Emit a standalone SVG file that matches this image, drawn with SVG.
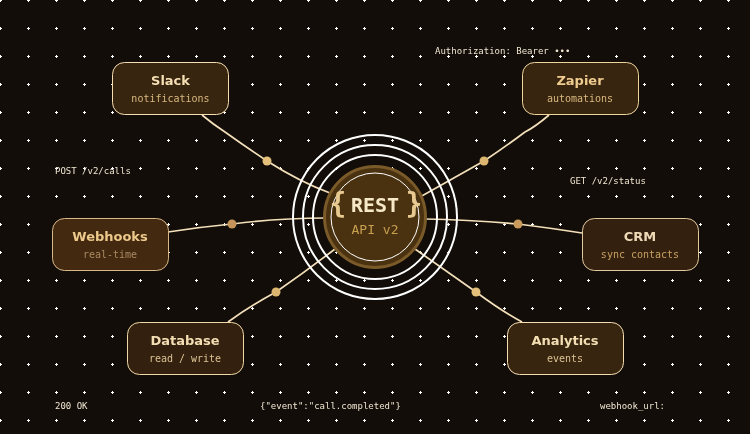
<svg xmlns="http://www.w3.org/2000/svg" width="750" height="434" viewBox="0 0 750 434">
<style>
.title{font-family:"DejaVu Sans",sans-serif;font-weight:700;font-size:13px;text-anchor:middle}
.sub{font-family:"DejaVu Sans Mono",monospace;font-size:10px;text-anchor:middle;letter-spacing:0}
.lab{font-family:"DejaVu Sans Mono",monospace;font-size:9px;fill:#f0e6d2}
.box{stroke-width:1}
.ring{fill:none;stroke:#fff;stroke-width:2}
.wire{fill:none;stroke:#f3dfba;stroke-width:1.7}
</style>
<defs>
<pattern id="dots" width="28" height="28" patternUnits="userSpaceOnUse" patternTransform="translate(-1 -1)"><path d="M0 1h3v1H0zM1 0h1v3H1z" fill="#fff" shape-rendering="crispEdges"/></pattern>
<filter id="rough" x="0" y="0" width="100%" height="100%" filterUnits="userSpaceOnUse" primitiveUnits="userSpaceOnUse" color-interpolation-filters="sRGB"><feTurbulence type="fractalNoise" baseFrequency="0.04" numOctaves="2" seed="3" result="n"/><feDisplacementMap in="SourceGraphic" in2="n" scale="1.2" xChannelSelector="R" yChannelSelector="G"/></filter>
</defs>
<rect width="750" height="434" fill="#120d08"/>
<rect width="750" height="434" fill="url(#dots)"/>
<g filter="url(#rough)">
<g id="connectors">
<path class="wire" d="M202 115 Q214 125 225 132 Q246 147 267 161 Q300 182 330 193"/>
<path class="wire" d="M549 115 Q535 127 525 132 Q505 147 484 161 Q450 180 420 197"/>
<path class="wire" d="M168 232 Q200 227 232 224 Q280 218 325 218"/>
<path class="wire" d="M582 233 Q550 228 518 224 Q470 220 425 219"/>
<path class="wire" d="M228 322 Q250 306 276 292 Q305 272 335 249"/>
<path class="wire" d="M522 322 Q500 310 476 292 Q445 270 415 249"/>
<circle cx="267" cy="161" r="4.500" fill="#e5c07b"/>
<circle cx="484" cy="161" r="4.500" fill="#dcb571"/>
<circle cx="232" cy="224" r="4.500" fill="#c4945a"/>
<circle cx="518" cy="224" r="4.500" fill="#c99a5b"/>
<circle cx="276" cy="292" r="4.500" fill="#dcb571"/>
<circle cx="476" cy="292" r="4.500" fill="#e5c07b"/>
</g>
<g id="hub">
<circle class="ring" cx="375" cy="217" r="82"/>
<circle class="ring" cx="375" cy="217" r="72"/>
<circle class="ring" cx="375" cy="217" r="62"/>
<circle cx="375" cy="217" r="50.500" fill="#4a3210" stroke="#7a5a28" stroke-width="3"/>
<circle cx="375" cy="217" r="44" fill="none" stroke="#fff" stroke-width="1"/>
<text x="338" y="213" font-family="'DejaVu Sans Mono',monospace" font-weight="700" font-size="28" fill="#e8c98f" text-anchor="middle">{</text>
<text x="414" y="213" font-family="'DejaVu Sans Mono',monospace" font-weight="700" font-size="28" fill="#e8c98f" text-anchor="middle">}</text>
<text x="375" y="212" font-family="'DejaVu Sans Mono',monospace" font-weight="700" font-size="20" fill="#f7e8c8" text-anchor="middle">REST</text>
<text x="375" y="234" font-family="'DejaVu Sans Mono',monospace" font-size="13" fill="#c9a050" text-anchor="middle">API v2</text>
</g>
<g id="slack"><rect class="box" x="112.500" y="62.500" width="116" height="52" rx="12" fill="#38250f" stroke="#f5deb3"/><text class="title" x="170.500" y="85" fill="#f5deb3">Slack</text><text class="sub" x="170.500" y="102" fill="#d9b981">notifications</text></g>
<g id="zapier"><rect class="box" x="522.500" y="62.500" width="116" height="52" rx="12" fill="#38250f" stroke="#f0d59e"/><text class="title" x="580" y="85" fill="#eecb8e">Zapier</text><text class="sub" x="580" y="102" fill="#d9b981">automations</text></g>
<g id="webhooks"><rect class="box" x="52.500" y="218.500" width="116" height="52" rx="12" fill="#42290f" stroke="#d9b98a"/><text class="title" x="110" y="241" fill="#edc98c">Webhooks</text><text class="sub" x="110" y="258" fill="#a98a62">real-time</text></g>
<g id="crm"><rect class="box" x="582.500" y="218.500" width="116" height="52" rx="12" fill="#33200e" stroke="#e3c9a0"/><text class="title" x="640" y="241" fill="#eed9b6">CRM</text><text class="sub" x="640" y="258" fill="#c9a063">sync contacts</text></g>
<g id="database"><rect class="box" x="127.500" y="322.500" width="116" height="52" rx="12" fill="#33200e" stroke="#f0d9a8"/><text class="title" x="185" y="345" fill="#f3deb3">Database</text><text class="sub" x="185" y="362" fill="#dcc294">read / write</text></g>
<g id="analytics"><rect class="box" x="507.500" y="322.500" width="116" height="52" rx="12" fill="#38250f" stroke="#f5deb3"/><text class="title" x="565" y="345" fill="#f3deb3">Analytics</text><text class="sub" x="565" y="362" fill="#dcc294">events</text></g>
<g id="labels">
<text class="lab" x="55" y="174">POST /v2/calls</text>
<text class="lab" x="435" y="54">Authorization: Bearer •••</text>
<text class="lab" x="570" y="184">GET /v2/status</text>
<text class="lab" x="55" y="409">200 OK</text>
<text class="lab" x="260" y="409">{"event":"call.completed"}</text>
<text class="lab" x="600" y="409">webhook_url:</text>
</g>
</g>
</svg>
